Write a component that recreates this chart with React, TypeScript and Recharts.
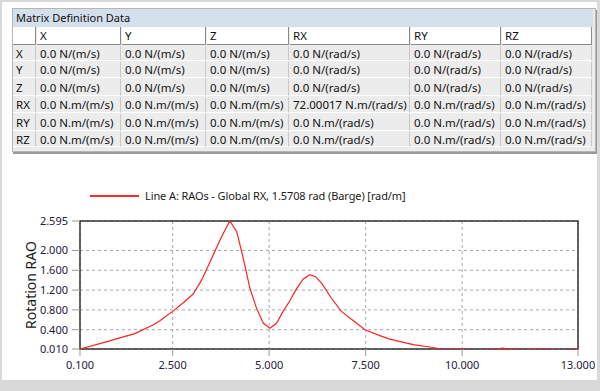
import React from "react"
import {
  CartesianGrid,
  Line,
  LineChart,
  ReferenceArea,
  XAxis,
  YAxis,
} from "recharts"

// table contents
const colLabels = ["X", "Y", "Z", "RX", "RY", "RZ"]
const rowLabels = ["X", "Y", "Z", "RX", "RY", "RZ"]
const rowX = ["0.0 N/(m/s)", "0.0 N/(m/s)", "0.0 N/(m/s)", "0.0 N/(rad/s)", "0.0 N/(rad/s)", "0.0 N/(rad/s)"]
const rowY = ["0.0 N/(m/s)", "0.0 N/(m/s)", "0.0 N/(m/s)", "0.0 N/(rad/s)", "0.0 N/(rad/s)", "0.0 N/(rad/s)"]
const rowZ = ["0.0 N/(m/s)", "0.0 N/(m/s)", "0.0 N/(m/s)", "0.0 N/(rad/s)", "0.0 N/(rad/s)", "0.0 N/(rad/s)"]
const rowRX = ["0.0 N.m/(m/s)", "0.0 N.m/(m/s)", "0.0 N.m/(m/s)", "72.00017 N.m/(rad/s)", "0.0 N.m/(rad/s)", "0.0 N.m/(rad/s)"]
const rowRY = ["0.0 N.m/(m/s)", "0.0 N.m/(m/s)", "0.0 N.m/(m/s)", "0.0 N.m/(rad/s)", "0.0 N.m/(rad/s)", "0.0 N.m/(rad/s)"]
const rowRZ = ["0.0 N.m/(m/s)", "0.0 N.m/(m/s)", "0.0 N.m/(m/s)", "0.0 N.m/(rad/s)", "0.0 N.m/(rad/s)", "0.0 N.m/(rad/s)"]
const matrix = [rowX, rowY, rowZ, rowRX, rowRY, rowRZ]

// chart series: frequency [rad/s] vs rotation RAO
const freq = [
  0.1, 0.8, 1.2, 1.52, 2.0, 2.17, 2.5, 2.8, 3.03, 3.25, 3.55, 3.77, 3.98,
  4.16, 4.33, 4.5, 4.67, 4.85, 5.02, 5.19, 5.36, 5.54, 5.71, 5.88, 6.05,
  6.2, 6.36, 6.6, 6.87, 7.2, 7.48, 7.87, 8.12, 8.73, 9.16, 9.46, 10.0,
  10.3, 10.76, 10.94, 11.05, 11.16, 11.4, 11.6, 11.77, 12.3, 12.6, 12.88, 13.0,
]
const rao = [
  0.01, 0.16, 0.25, 0.32, 0.5, 0.58, 0.77, 0.96, 1.12, 1.4, 1.91, 2.28, 2.595,
  2.38, 1.84, 1.24, 0.84, 0.53, 0.43, 0.53, 0.77, 0.99, 1.23, 1.42, 1.51,
  1.47, 1.34, 1.05, 0.77, 0.57, 0.4, 0.28, 0.21, 0.1, 0.05, 0.01, 0.01,
  0.0, 0.01, 0.012, 0.03, 0.012, 0.01, 0.0, 0.01, 0.01, 0.0, 0.01, 0.01,
]
const xTicks = [0.1, 2.5, 5.0, 7.5, 10.0, 13.0]
const yTicks = [0.01, 0.4, 0.8, 1.2, 1.6, 2.0, 2.595]

const data = freq.map((f, i) => ({ f, v: rao[i] }))

const font = "'Noto Sans', 'Open Sans', sans-serif"
const colWidths = [24, 85, 85, 83, 121, 91, 91]
const rowTops = [27, 46, 62, 79, 97, 114, 132, 148]

function MatrixTable() {
  const lefts = colWidths.reduce<number[]>((acc, w, i) => {
    acc.push(i === 0 ? 13 : acc[i - 1] + colWidths[i - 1])
    return acc
  }, [])
  const cells: React.ReactNode[] = []
  const cell = (key: string, x: number, y: number, w: number, h: number, text: string, header: boolean) => (
    <div
      key={key}
      style={{
        position: "absolute",
        left: x,
        top: y,
        width: w - 1,
        height: h - 1,
        background: header ? "#ffffff" : "#ececec",
        borderRight: header ? "1px solid #8a8a8a" : "1px solid #c9c9c9",
        borderBottom: header ? "1px solid #8a8a8a" : "1px solid #ffffff",
        paddingLeft: 3,
        boxSizing: "border-box",
        fontSize: 11.5,
        lineHeight: `${h - 1}px`,
        whiteSpace: "nowrap",
        overflow: "hidden",
        color: "#111",
      }}
    >
      {text}
    </div>
  )
  // header row
  cells.push(cell("h0", lefts[0], rowTops[0], colWidths[0], rowTops[1] - rowTops[0], "", true))
  colLabels.forEach((c, j) =>
    cells.push(cell(`h${j + 1}`, lefts[j + 1], rowTops[0], colWidths[j + 1], rowTops[1] - rowTops[0], c, true))
  )
  rowLabels.forEach((r, i) => {
    const y = rowTops[i + 1]
    const h = rowTops[i + 2] - y
    cells.push(cell(`r${i}`, lefts[0], y, colWidths[0], h, r, false))
    matrix[i].forEach((v, j) => cells.push(cell(`c${i}-${j}`, lefts[j + 1], y, colWidths[j + 1], h, v, false)))
  })
  return (
    <>
      <div
        style={{
          position: "absolute",
          left: 12,
          top: 8,
          width: 582,
          height: 142,
          border: "1px solid #b5b5b5",
          boxShadow: "1px 2px 0 #9a9a9a",
          background: "#ececec",
        }}
      />
      <div
        style={{
          position: "absolute",
          left: 13,
          top: 9,
          width: 580,
          height: 18,
          background: "#d3dfeb",
          fontSize: 11,
          lineHeight: "18px",
          paddingLeft: 3,
          boxSizing: "border-box",
          color: "#111",
        }}
      >
        Matrix Definition Data
      </div>
      {cells}
    </>
  )
}

export default function App() {
  return (
    <div
      style={{
        position: "absolute",
        left: 0,
        top: 0,
        width: 600,
        height: 391,
        background: "#d9d9d9",
        fontFamily: font,
        overflow: "hidden",
      }}
    >
      <div style={{ position: "absolute", left: 2, top: 2, width: 595, height: 378, background: "#ffffff" }} />
      <MatrixTable />

      {/* legend */}
      <div style={{ position: "absolute", left: 90, top: 195, width: 49, height: 1.5, background: "#ff2a2a" }} />
      <div
        style={{
          position: "absolute",
          left: 145,
          top: 187,
          fontSize: 11,
          letterSpacing: -0.1,
          lineHeight: "18px",
          color: "#1a1a1a",
          whiteSpace: "nowrap",
        }}
      >
        Line A: RAOs - Global RX, 1.5708 rad (Barge) [rad/m]
      </div>

      <div style={{ position: "absolute", left: 0, top: 160 }}>
        <LineChart width={600} height={231} data={data} margin={{ top: 61, right: 22, bottom: 12, left: 0 }}>
          <CartesianGrid stroke="#a8a8a8" strokeDasharray="3 3" />
          <XAxis
            dataKey="f"
            type="number"
            domain={[0.1, 13]}
            ticks={xTicks}
            interval={0}
            height={30}
            tickFormatter={(v: number) => v.toFixed(3)}
            tick={{ fill: "#1f2040", fontSize: 11, fontFamily: font }}
            tickSize={7}
            tickMargin={5}
            axisLine={false}
            tickLine={{ stroke: "#9a9a9a" }}
          />
          <YAxis
            type="number"
            domain={[0.01, 2.595]}
            ticks={yTicks}
            interval={0}
            allowDataOverflow
            width={80}
            tickFormatter={(v: number) => v.toFixed(3)}
            tick={{ fill: "#1f2040", fontSize: 11, fontFamily: font }}
            tickSize={8}
            tickMargin={4}
            axisLine={false}
            tickLine={{ stroke: "#9a9a9a" }}
            label={{
              value: "Rotation RAO",
              angle: -90,
              position: "insideLeft",
              offset: 31,
              style: { textAnchor: "middle", fill: "#1a1a1a", fontSize: 14, fontFamily: font },
            }}
          />
          <ReferenceArea x1={0.1} x2={13} y1={0.01} y2={2.595} fill="none" stroke="#333333" strokeWidth={1.5} />
          <Line
            dataKey="v"
            type="linear"
            stroke="#ff2020"
            strokeWidth={1.2}
            dot={false}
            isAnimationActive={false}
          />
        </LineChart>
      </div>
    </div>
  )
}
